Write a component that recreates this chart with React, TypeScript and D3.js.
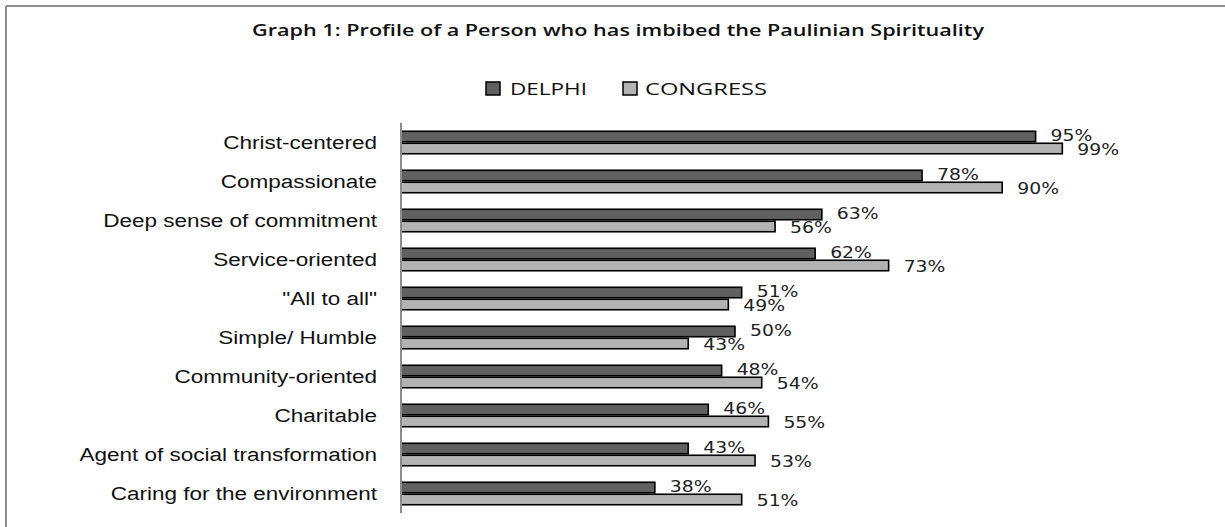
import React from "react";
import * as d3 from "d3";

const categories = [
  "Christ-centered",
  "Compassionate",
  "Deep sense of commitment",
  "Service-oriented",
  "\"All to all\"",
  "Simple/ Humble",
  "Community-oriented",
  "Charitable",
  "Agent of social transformation",
  "Caring for the environment",
];
const delphi = [95, 78, 63, 62, 51, 50, 48, 46, 43, 38];
const congress = [99, 90, 56, 73, 49, 43, 54, 55, 53, 51];
const seriesNames = ["DELPHI", "CONGRESS"];
const seriesColors = ["#606060", "#b3b3b3"];

const W = 1225;
const H = 527;

export default function App() {
  const x = d3.scaleLinear().domain([0, 100]).range([401, 1069]);
  const y = d3
    .scaleBand<string>()
    .domain(categories)
    .range([123, 513])
    .paddingInner(0.385)
    .paddingOuter(0.1925);
  const sub = d3.scaleBand<string>().domain(seriesNames).range([0, y.bandwidth()]);
  const series = [delphi, congress];
  const labelDy = [4.5, 6.5];

  return (
    <svg
      width={W}
      height={H}
      style={{ position: "absolute", left: 0, top: 0, background: "#fff" }}
    >
      <rect x={0} y={0} width={W} height={H} fill="#fff" />
      {/* frame */}
      <line x1={6} y1={6} x2={W} y2={6} stroke="#8c8c8c" strokeWidth={2} />
      <line x1={6} y1={6} x2={6} y2={H} stroke="#8c8c8c" strokeWidth={2} />

      {/* title */}
      <text
        x={252}
        y={36}
        fontFamily="'Open Sans', sans-serif"
        fontWeight={600}
        fontSize={17}
        fill="#111"
        textLength={732}
        lengthAdjust="spacingAndGlyphs"
      >
        Graph 1:  Profile of a Person who has imbibed the Paulinian Spirituality
      </text>

      {/* legend */}
      <g>
        <rect x={486} y={82} width={14} height={13} fill={seriesColors[0]} stroke="#000" strokeWidth={1.5} />
        <text
          x={510}
          y={95}
          fontFamily="'Open Sans', sans-serif"
          fontSize={17}
          fill="#111"
          textLength={77}
          lengthAdjust="spacingAndGlyphs"
        >
          {seriesNames[0]}
        </text>
        <rect x={623} y={82} width={14} height={13} fill={seriesColors[1]} stroke="#000" strokeWidth={1.5} />
        <text
          x={645}
          y={95}
          fontFamily="'Open Sans', sans-serif"
          fontSize={17}
          fill="#111"
          textLength={122}
          lengthAdjust="spacingAndGlyphs"
        >
          {seriesNames[1]}
        </text>
      </g>

      {/* bars */}
      {categories.map((c, i) => (
        <g key={c}>
          {series.map((s, k) => {
            const by = (y(c) as number) + (sub(seriesNames[k]) as number);
            const bh = sub.bandwidth();
            return (
              <rect
                key={k}
                x={x(0)}
                y={by + 0.75}
                width={x(s[i]) - x(0)}
                height={bh - 1.5}
                fill={seriesColors[k]}
                stroke="#000"
                strokeWidth={1.6}
              />
            );
          })}
          {series.map((s, k) => {
            const by = (y(c) as number) + (sub(seriesNames[k]) as number);
            const cy = by + sub.bandwidth() / 2;
            return (
              <text
                key={"l" + k}
                transform={`translate(${x(s[i]) + 15},${cy + labelDy[k]}) scale(1.14,1)`}
                fontFamily="'DejaVu Sans', Verdana, sans-serif"
                fontSize={16.5}
                fill="#222"
              >
                {s[i]}%
              </text>
            );
          })}
          <text
            transform={`translate(377,${(y(c) as number) + y.bandwidth() / 2 + 6.5}) scale(1.25,1)`}
            textAnchor="end"
            fontFamily="'Liberation Sans', Arial, sans-serif"
            fontSize={18}
            fill="#111"
          >
            {c}
          </text>
        </g>
      ))}

      {/* axis */}
      <line x1={x(0)} y1={123} x2={x(0)} y2={513} stroke="#8c8c8c" strokeWidth={2} />
    </svg>
  );
}
